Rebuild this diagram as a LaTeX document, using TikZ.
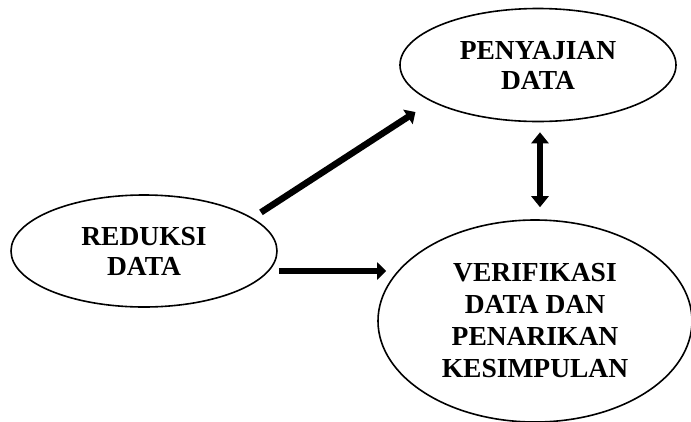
\documentclass[tikz,border=0pt]{standalone}
\usepackage{fontspec}
\setmainfont{Liberation Serif}
\usetikzlibrary{shapes.geometric,arrows.meta}

\begin{document}
\begin{tikzpicture}[x=1pt,y=-1pt,
  elips/.style={draw,ellipse,line width=1.6pt,inner sep=0pt,align=center,
    font=\fontsize{27.5}{30}\selectfont\bfseries},
  panah/.style={line width=6.5pt,-{Triangle[length=9pt,width=17pt]}}]
\useasboundingbox (0,0) rectangle (691,421);
\node[elips,minimum width=266pt,minimum height=112pt] (red) at (144,251) {REDUKSI\\DATA};
\node[elips,minimum width=276pt,minimum height=113pt] (pen) at (538,65) {PENYAJIAN\\DATA};
\node[elips,minimum width=314pt,minimum height=202pt,
  font=\fontsize{27.5}{32}\selectfont\bfseries] (ver) at (535,321)
  {VERIFIKASI\\DATA DAN\\PENARIKAN\\KESIMPULAN};
\draw[panah,shorten <=10pt,shorten >=19pt] (red.17.5) -- (pen.199.6);
\draw[panah,shorten <=1pt,shorten >=-9pt] ([yshift=-20pt]red.east) -- ([yshift=-20pt]red.east -| ver.west);
\draw[panah,{Triangle[length=11pt,width=17pt]}-{Triangle[length=11pt,width=17pt]},
  shorten <=10pt,shorten >=12pt] ([xshift=2pt]pen.south) -- ([xshift=2pt]pen.south |- ver.north);
\end{tikzpicture}
\end{document}
